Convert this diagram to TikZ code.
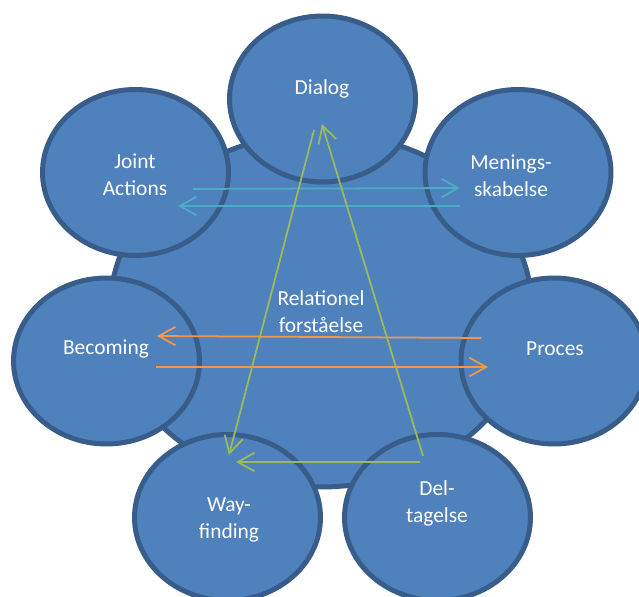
\documentclass[tikz,border=0pt]{standalone}
\usepackage{fontspec}
\setmainfont{Carlito}
\usetikzlibrary{shapes.geometric}
\usetikzlibrary{arrows.meta}

\definecolor{ringfill}{HTML}{4F81BD}
\definecolor{ringline}{HTML}{385D8A}
\definecolor{aqualine}{HTML}{4BACC6}
\definecolor{orangeline}{HTML}{F79646}
\definecolor{greenline}{HTML}{9BBB59}

\tikzset{
	ring/.style = {ellipse, draw = ringline, fill = ringfill, line width = 0.1cm,
		inner sep = 0pt, minimum width = 3.72cm, minimum height = 3.32cm},
	hub/.style = {ring, minimum width = 8.44cm, minimum height = 7.08cm},
	lbl/.style = {text = white, align = center, inner sep = 0pt,
		font = \fontsize{12.2}{15.4}\selectfont},
	link/.style = {line width = 1pt, -{Straight Barb[length = 9.5pt, width = 10.5pt]}}
}

\begin{document}
\begin{tikzpicture}[x = 0.02cm, y = -0.02cm]
	\clip (0,0) rectangle (639,597);

	\node[hub] (rel) at (321,310) {};
	\foreach \name/\x/\y in {dialog/322.5/99, joint/135.5/172.5, menings/518/172.5,
			becoming/106.5/361, proces/554/361, way/227.5/517.5, del/437.5/517.5}{
			\node[ring] (\name) at (\x,\y) {};
		}

	\node[lbl] (rel-t) at (321,312) {Relationel\\forståelse};
	\node[lbl] (dialog-t) at (322,89) {Dialog};
	\node[lbl] (joint-t) at (135,174.5) {Joint\\Actions};
	\node[lbl] (menings-t) at (511,175.5) {Menings-\\skabelse};
	\node[lbl] (becoming-t) at (106,349) {Becoming};
	\node[lbl] (proces-t) at (555,349) {Proces};
	\node[lbl] (way-t) at (229,520) {Way-\\finding};
	\node[lbl] (del-t) at (437,503.5) {Del-\\tagelse};

	% arrow ends
	\coordinate (joint-a) at (193,189);
	\coordinate (menings-a) at (460,188);
	\coordinate (menings-b) at (460,206);
	\coordinate (joint-b) at (178,206);
	\coordinate (proces-a) at (481,338);
	\coordinate (becoming-a) at (157,336);
	\coordinate (becoming-b) at (156,367);
	\coordinate (proces-b) at (488,367);
	\coordinate (del-a) at (423,456);
	\coordinate (dialog-a) at (322,124);
	\coordinate (dialog-b) at (314,130);
	\coordinate (way-a) at (229,455);
	\coordinate (del-b) at (420,462);
	\coordinate (way-b) at (236,462);

	\draw[link, aqualine] (joint-a) -- (menings-a);
	\draw[link, aqualine] (menings-b) -- (joint-b);
	\draw[link, orangeline] (proces-a) -- (becoming-a);
	\draw[link, orangeline] (becoming-b) -- (proces-b);
	\draw[link, greenline] (del-a) -- (dialog-a);
	\draw[link, greenline] (dialog-b) -- (way-a);
	\draw[link, greenline] (del-b) -- (way-b);
\end{tikzpicture}
\end{document}
